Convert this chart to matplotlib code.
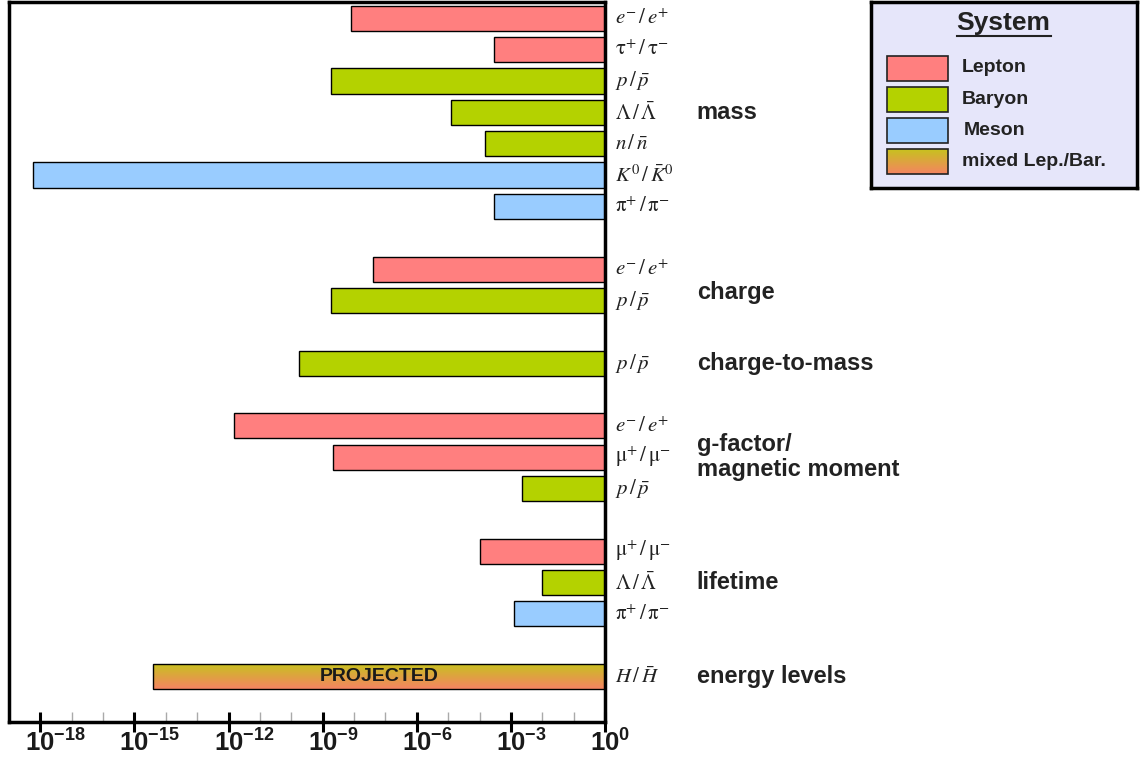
import numpy as np
import matplotlib.pyplot as plt
from matplotlib.patches import Rectangle
from matplotlib.ticker import FixedLocator, NullFormatter
from matplotlib.transforms import ScaledTranslation

plt.rcParams['font.family'] = ['Liberation Sans', 'DejaVu Sans']
plt.rcParams['mathtext.fontset'] = 'custom'
plt.rcParams['mathtext.rm'] = 'Liberation Sans:bold'
plt.rcParams['mathtext.bf'] = 'Liberation Sans:bold'
plt.rcParams['mathtext.it'] = 'Liberation Sans:bold'

# relative precision of particle/antiparticle comparisons
mass_pairs = [r'$e^{-}\,/\,e^{+}$', r'$\mathrm{\tau}^{+}\,/\,\mathrm{\tau}^{-}$', r'$p\,/\,\bar{p}$',
              r'$\mathrm{\Lambda}\,/\,\bar{\mathrm{\Lambda}}$', r'$n\,/\,\bar{n}$',
              r'$K^{0}\,/\,\bar{K}^{0}$', r'$\mathrm{\pi}^{+}\,/\,\mathrm{\pi}^{-}$']
mass_vals = [8e-9, 2.9e-4, 1.9e-9, 1.2e-5, 1.5e-4, 6e-19, 3e-4]
mass_sys = ['Lepton', 'Lepton', 'Baryon', 'Baryon', 'Baryon', 'Meson', 'Meson']

charge_pairs = [r'$e^{-}\,/\,e^{+}$', r'$p\,/\,\bar{p}$']
charge_vals = [4e-8, 1.9e-9]
charge_sys = ['Lepton', 'Baryon']

qm_pairs = [r'$p\,/\,\bar{p}$']
qm_vals = [1.7e-10]
qm_sys = ['Baryon']

g_pairs = [r'$e^{-}\,/\,e^{+}$', r'$\mathrm{\mu}^{+}\,/\,\mathrm{\mu}^{-}$', r'$p\,/\,\bar{p}$']
g_vals = [1.5e-12, 2.2e-9, 2.2e-3]
g_sys = ['Lepton', 'Lepton', 'Baryon']

life_pairs = [r'$\mathrm{\mu}^{+}\,/\,\mathrm{\mu}^{-}$', r'$\mathrm{\Lambda}\,/\,\bar{\mathrm{\Lambda}}$',
              r'$\mathrm{\pi}^{+}\,/\,\mathrm{\pi}^{-}$']
life_vals = [1e-4, 1e-2, 1.25e-3]
life_sys = ['Lepton', 'Baryon', 'Meson']

energy_pairs = [r'$H\,/\,\bar{H}$']
energy_vals = [4e-15]
energy_sys = ['mixed Lep./Bar.']

groups = [('mass', mass_pairs, mass_vals, mass_sys),
          ('charge', charge_pairs, charge_vals, charge_sys),
          ('charge-to-mass', qm_pairs, qm_vals, qm_sys),
          ('g-factor/\nmagnetic moment', g_pairs, g_vals, g_sys),
          ('lifetime', life_pairs, life_vals, life_sys),
          ('energy levels', energy_pairs, energy_vals, energy_sys)]

tick_exps = [-18, -15, -12, -9, -6, -3, 0]

systems = ['Lepton', 'Baryon', 'Meson', 'mixed Lep./Bar.']
colors = {'Lepton': '#ff7f7f', 'Baryon': '#b4d200', 'Meson': '#99ccff'}
grad_top = np.array([0.78, 0.76, 0.12])
grad_bot = np.array([0.96, 0.52, 0.38])
gradient = np.linspace(grad_top, grad_bot, 64).reshape(64, 1, 3)

fig = plt.figure(figsize=(11.42, 7.65), dpi=100)
ax = fig.add_axes([9 / 1142, 1 - 722 / 765, 596 / 1142, 720 / 765])

row = 0
for name, pairs, vals, syss in groups:
    rows = []
    for lab, v, s in zip(pairs, vals, syss):
        if s in colors:
            ax.barh(row, 1 - v, left=v, height=0.8, color=colors[s],
                    edgecolor='black', linewidth=1, zorder=2)
        else:
            b = ax.barh(row, 1 - v, left=v, height=0.8, facecolor='none',
                        edgecolor='black', linewidth=1, zorder=3)[0]
            im = ax.imshow(gradient, extent=(v, 1, row + 0.4, row - 0.4),
                           aspect='auto', zorder=2, interpolation='bilinear')
            im.set_clip_path(b)
            ax.text(np.sqrt(v), row, 'PROJECTED', ha='center', va='center',
                    fontsize=14, fontweight='bold', color='#1a1a1a', zorder=4)
        ax.text(1.016, row, lab, transform=ax.get_yaxis_transform(),
                ha='left', va='center', fontsize=15, math_fontfamily='stix',
                color='#222222')
        rows.append(row)
        row += 1
    ax.text(1.154, np.mean(rows) + (0.25 if name == 'charge' else 0), name,
            transform=ax.get_yaxis_transform(), ha='left', va='center',
            fontsize=17, fontweight='bold', color='#222222', linespacing=1.15)
    row += 1

ax.set_xscale('log')
ax.set_xlim(1e-19, 1)
ax.set_ylim(22.45, -0.52)
ax.set_yticks([])
ax.xaxis.set_major_locator(FixedLocator([10.0 ** k for k in tick_exps]))
ax.xaxis.set_minor_locator(FixedLocator([10.0 ** k for k in range(-18, 0) if k % 3]))
ax.xaxis.set_major_formatter(NullFormatter())
ax.xaxis.set_minor_formatter(NullFormatter())
ax.tick_params(axis='x', which='major', direction='inout', length=14, width=2.2)
ax.tick_params(axis='x', which='minor', direction='in', length=7, width=1,
               color='#aaaaaa')
for sp in ax.spines.values():
    sp.set_linewidth(2.5)

# tick labels: the "10" sits centred under its tick, exponent hangs to the right
shift = ScaledTranslation(-15 / 100, -7 / 100, fig.dpi_scale_trans)
for k in tick_exps:
    ax.text(10.0 ** k, 0, r'$\mathbf{10^{%d}}$' % k, fontsize=18.5,
            transform=ax.get_xaxis_transform() + shift, ha='left', va='top',
            color='#1a1a1a', clip_on=False)

# legend box
lax = fig.add_axes([871 / 1142, 1 - 188 / 765, 266 / 1142, 186 / 765])
lax.set_facecolor('#e6e6fa')
lax.set_xticks([])
lax.set_yticks([])
for sp in lax.spines.values():
    sp.set_linewidth(2.5)
lax.text(132, 21, 'System', ha='center', va='center', fontsize=19,
         fontweight='bold', color='#222222')
lax.plot([86, 180], [34, 34], color='#222222', lw=1.5)
for i, s in enumerate(systems):
    y = 66 + 31.3 * i
    if s in colors:
        lax.add_patch(Rectangle((16, y - 12.5), 61, 25, facecolor=colors[s],
                                edgecolor='#222222', linewidth=1.2))
    else:
        r = Rectangle((16, y - 12.5), 61, 25, facecolor='none',
                      edgecolor='#222222', linewidth=1.2, zorder=3)
        lax.add_patch(r)
        im = lax.imshow(gradient, extent=(16, 77, y + 12.5, y - 12.5),
                        aspect='auto', zorder=2, interpolation='bilinear')
        im.set_clip_path(r)
    lax.text(91 if s != 'Meson' else 93, y, s, ha='left', va='center',
             fontsize=14, fontweight='bold', color='#222222')
lax.set_xlim(0, 266)
lax.set_ylim(186, 0)

fig.savefig('out.png', dpi=100)
